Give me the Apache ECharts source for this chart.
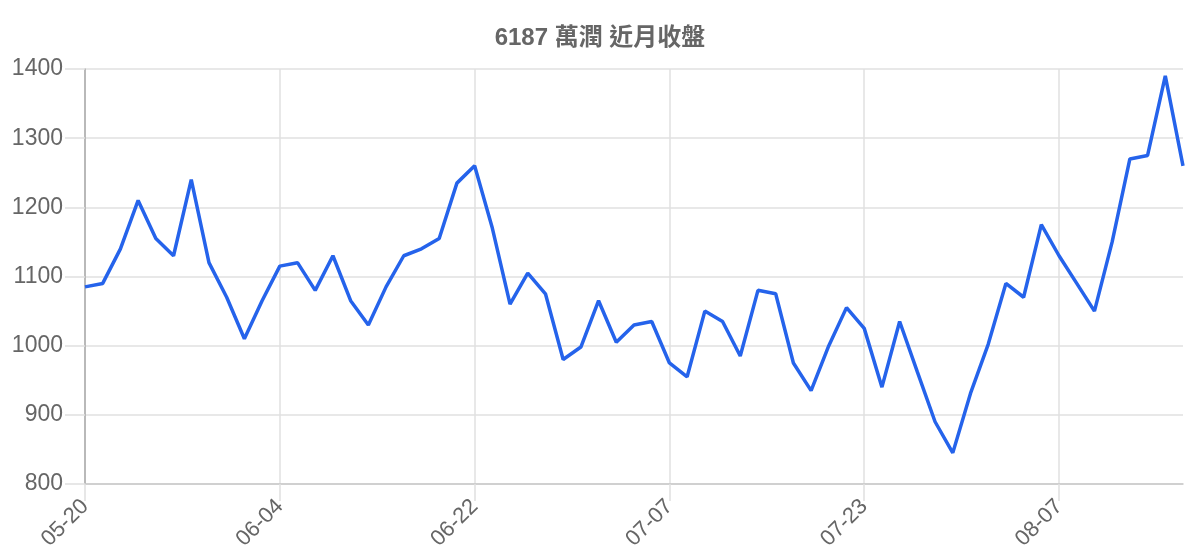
<!DOCTYPE html>
<html><head><meta charset="utf-8">
<script src="https://cdn.jsdelivr.net/npm/echarts@6/dist/echarts.min.js"></script>
<style>html,body{margin:0;padding:0;background:#fff}#c{width:1200px;height:560px}</style>
</head><body><div id="c"></div>
<script>
const titleText = '6187 萬潤 近月收盤';
const dates = [
 '05-20','05-21','05-22','05-23','05-24','05-27','05-28','05-29','05-30','05-31','06-03',
 '06-04','06-05','06-06','06-07','06-11','06-12','06-13','06-14','06-17','06-18','06-19',
 '06-22','06-23','06-24','06-25','06-26','06-29','06-30','07-01','07-02','07-03','07-06',
 '07-07','07-08','07-09','07-10','07-13','07-14','07-15','07-16','07-17','07-20','07-21',
 '07-23','07-24','07-27','07-28','07-29','07-30','07-31','08-03','08-04','08-05','08-06',
 '08-07','08-10','08-11','08-12','08-13','08-14','08-17','08-18'
];
const closes = [
 1085,1090,1140,1210,1155,1130,1240,1120,1070,1010,1065,
 1115,1120,1080,1130,1065,1030,1085,1130,1140,1155,1235,
 1260,1170,1060,1105,1075,980,998,1065,1005,1030,1035,
 975,955,1050,1035,985,1080,1075,975,935,1000,1055,
 1025,940,1035,962,890,845,931,1002,1090,1070,1175,
 1130,1090,1050,1150,1270,1275,1390,1260
];
const yMin = 800, yMax = 1400, yStep = 100;
const font = '"Liberation Sans", Arial, "Noto Sans CJK TC", sans-serif';

const chart = echarts.init(document.getElementById('c'));
chart.setOption({
  animation: false,
  backgroundColor: '#fff',
  title: {
    text: titleText, left: 'center', top: 21,
    textStyle: { fontSize: 24, fontWeight: 'bold', color: '#666', fontFamily: font }
  },
  grid: { left: 85, right: 17, top: 69, bottom: 76, containLabel: false },
  xAxis: {
    type: 'category', data: dates, boundaryGap: false,
    axisLine: { lineStyle: { color: '#c8c8c8', width: 1.5 } },
    axisTick: { show: true, interval: 10, length: 17, lineStyle: { color: '#e0e0e0', width: 1.5 } },
    axisLabel: { interval: 10, rotate: 45, margin: 19, fontSize: 22, color: '#666', fontFamily: font },
    splitLine: { show: true, interval: 10, lineStyle: { color: '#e0e0e0', width: 1.5 } }
  },
  yAxis: {
    type: 'value', min: yMin, max: yMax, interval: yStep,
    axisLine: { show: true, lineStyle: { color: '#aaaaaa', width: 1.5 } },
    axisTick: { show: true, length: 20, lineStyle: { color: '#e0e0e0', width: 1.5 } },
    axisLabel: { margin: 22, fontSize: 23, color: '#666', fontFamily: font, formatter: v => String(v) },
    splitLine: { show: true, lineStyle: { color: '#e0e0e0', width: 1.5 } }
  },
  series: [{
    type: 'line', data: closes, showSymbol: false, smooth: false,
    lineStyle: { color: '#2563eb', width: 3.5 }
  }]
});
</script></body></html>
